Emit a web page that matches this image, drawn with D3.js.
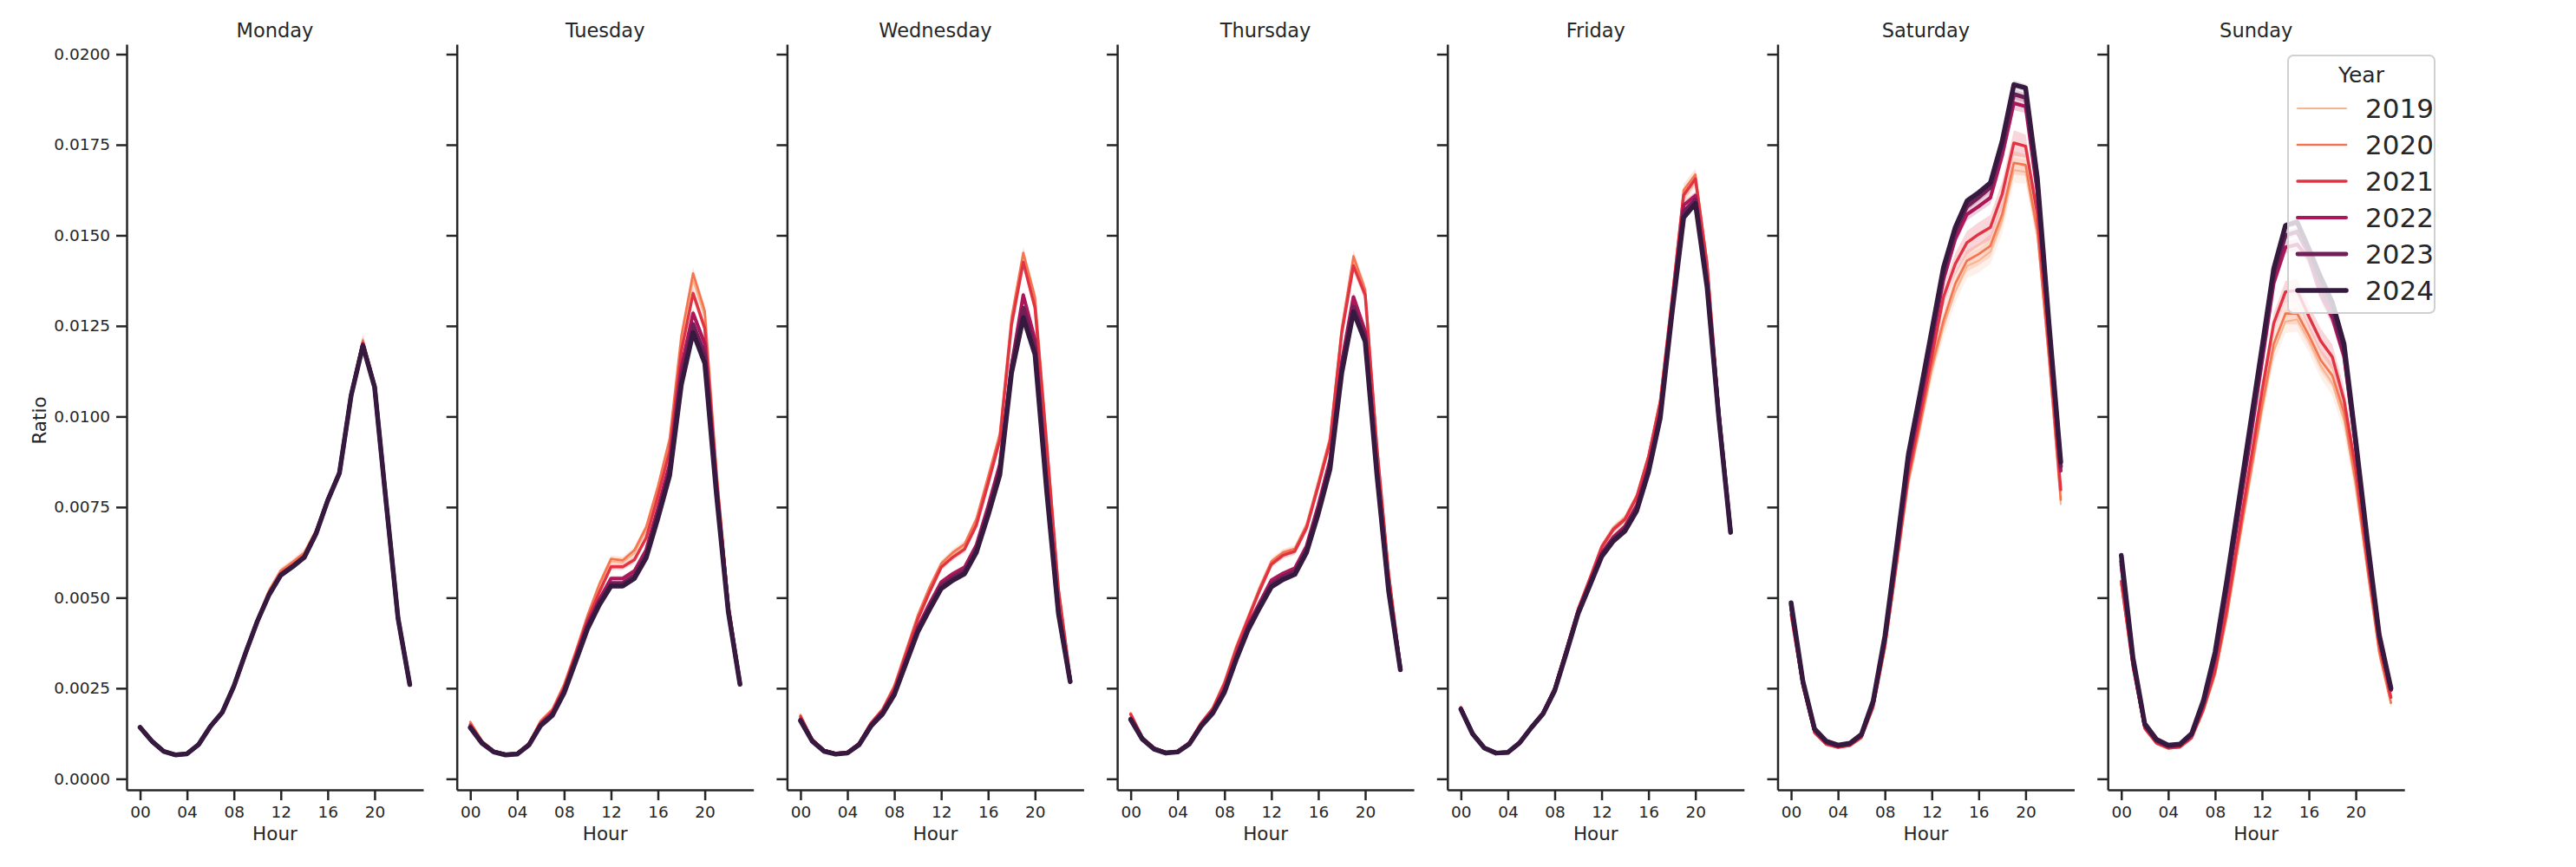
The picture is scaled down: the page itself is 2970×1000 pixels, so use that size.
<!DOCTYPE html>
<html lang="en">
<head>
  <meta charset="UTF-8">
  <script src="https://d3js.org/d3.v7.min.js"></script>
  <style>
    body { margin: 0; background: #fff; }
    text { font-family: "DejaVu Sans", sans-serif; fill: #262626; }
  </style>
</head>
<body>
<script>
  // data: one row per year (2019..2024), one value per hour 0..23
  const years = ["2019", "2020", "2021", "2022", "2023", "2024"];
  const days = ["Monday", "Tuesday", "Wednesday", "Thursday", "Friday", "Saturday", "Sunday"];
  const hourTicks = [0, 4, 8, 12, 16, 20];
  const ratioTicks = [0, 0.0025, 0.005, 0.0075, 0.01, 0.0125, 0.015, 0.0175, 0.02];

  const monday = [
    [0.00143,0.00104,0.00076,0.00066,0.00069,0.00095,0.00146,0.00184,0.00258,0.00350,0.00438,0.00512,0.00568,0.00592,0.00618,0.00681,0.00772,0.00847,0.01062,0.01205,0.01086,0.00760,0.00444,0.00260],
    [0.00144,0.00105,0.00077,0.00067,0.00070,0.00096,0.00147,0.00186,0.00260,0.00353,0.00442,0.00520,0.00575,0.00598,0.00624,0.00685,0.00775,0.00850,0.01065,0.01210,0.01090,0.00762,0.00445,0.00261],
    [0.00143,0.00104,0.00076,0.00066,0.00069,0.00095,0.00146,0.00184,0.00257,0.00349,0.00437,0.00512,0.00567,0.00590,0.00616,0.00680,0.00771,0.00846,0.01061,0.01203,0.01085,0.00760,0.00444,0.00260],
    [0.00142,0.00104,0.00076,0.00066,0.00069,0.00095,0.00145,0.00183,0.00256,0.00348,0.00436,0.00510,0.00565,0.00588,0.00614,0.00678,0.00770,0.00845,0.01060,0.01200,0.01083,0.00759,0.00443,0.00260],
    [0.00142,0.00104,0.00076,0.00066,0.00069,0.00095,0.00145,0.00183,0.00256,0.00348,0.00435,0.00509,0.00563,0.00586,0.00612,0.00677,0.00769,0.00844,0.01059,0.01197,0.01082,0.00758,0.00443,0.00260],
    [0.00142,0.00104,0.00076,0.00066,0.00069,0.00095,0.00145,0.00183,0.00256,0.00348,0.00435,0.00508,0.00562,0.00585,0.00611,0.00676,0.00768,0.00844,0.01058,0.01195,0.01081,0.00758,0.00443,0.00260]
  ];
  const tuesday = [
    [0.00154,0.00104,0.00077,0.00068,0.00070,0.00098,0.00158,0.00190,0.00258,0.00350,0.00447,0.00530,0.00600,0.00597,0.00622,0.00685,0.00797,0.00925,0.01205,0.01375,0.01275,0.00845,0.00486,0.00268],
    [0.00157,0.00105,0.00078,0.00069,0.00071,0.00099,0.00160,0.00192,0.00261,0.00353,0.00451,0.00537,0.00607,0.00603,0.00631,0.00695,0.00807,0.00938,0.01222,0.01395,0.01291,0.00850,0.00490,0.00270],
    [0.00150,0.00102,0.00076,0.00068,0.00070,0.00097,0.00155,0.00186,0.00252,0.00345,0.00440,0.00515,0.00585,0.00585,0.00605,0.00665,0.00780,0.00905,0.01180,0.01340,0.01243,0.00830,0.00478,0.00265],
    [0.00145,0.00100,0.00075,0.00067,0.00069,0.00095,0.00151,0.00181,0.00245,0.00336,0.00428,0.00495,0.00553,0.00553,0.00574,0.00632,0.00746,0.00868,0.01135,0.01285,0.01200,0.00810,0.00470,0.00263],
    [0.00143,0.00099,0.00075,0.00067,0.00069,0.00094,0.00149,0.00178,0.00241,0.00330,0.00420,0.00487,0.00540,0.00540,0.00561,0.00619,0.00730,0.00850,0.01110,0.01255,0.01170,0.00795,0.00466,0.00262],
    [0.00141,0.00098,0.00074,0.00066,0.00068,0.00093,0.00147,0.00175,0.00237,0.00325,0.00414,0.00480,0.00532,0.00532,0.00553,0.00610,0.00719,0.00837,0.01088,0.01232,0.01147,0.00783,0.00462,0.00261]
  ];
  const wednesday = [
    [0.00174,0.00109,0.00080,0.00070,0.00073,0.00098,0.00154,0.00191,0.00254,0.00350,0.00446,0.00522,0.00590,0.00620,0.00642,0.00710,0.00826,0.00945,0.01265,0.01440,0.01318,0.00928,0.00525,0.00281],
    [0.00176,0.00110,0.00080,0.00071,0.00074,0.00099,0.00155,0.00193,0.00257,0.00354,0.00451,0.00528,0.00594,0.00625,0.00648,0.00717,0.00834,0.00952,0.01273,0.01452,0.01329,0.00934,0.00528,0.00283],
    [0.00172,0.00108,0.00079,0.00070,0.00073,0.00098,0.00153,0.00190,0.00250,0.00345,0.00440,0.00515,0.00584,0.00612,0.00634,0.00700,0.00815,0.00935,0.01253,0.01426,0.01300,0.00920,0.00522,0.00280],
    [0.00165,0.00106,0.00078,0.00069,0.00072,0.00096,0.00149,0.00185,0.00240,0.00330,0.00418,0.00483,0.00543,0.00566,0.00584,0.00645,0.00752,0.00868,0.01140,0.01335,0.01212,0.00820,0.00465,0.00272],
    [0.00162,0.00105,0.00077,0.00069,0.00072,0.00095,0.00147,0.00182,0.00236,0.00324,0.00411,0.00474,0.00533,0.00556,0.00574,0.00634,0.00738,0.00852,0.01135,0.01300,0.01190,0.00805,0.00460,0.00270],
    [0.00160,0.00104,0.00076,0.00068,0.00071,0.00094,0.00145,0.00179,0.00232,0.00319,0.00405,0.00467,0.00525,0.00548,0.00566,0.00625,0.00727,0.00839,0.01120,0.01273,0.01171,0.00793,0.00456,0.00268]
  ];
  const thursday = [
    [0.00179,0.00114,0.00085,0.00073,0.00076,0.00100,0.00154,0.00194,0.00265,0.00361,0.00443,0.00524,0.00596,0.00620,0.00631,0.00696,0.00813,0.00935,0.01236,0.01430,0.01342,0.00917,0.00567,0.00309],
    [0.00181,0.00115,0.00086,0.00074,0.00077,0.00101,0.00155,0.00196,0.00268,0.00365,0.00446,0.00528,0.00600,0.00625,0.00635,0.00701,0.00819,0.00941,0.01243,0.01442,0.01350,0.00920,0.00570,0.00310],
    [0.00178,0.00114,0.00085,0.00073,0.00076,0.00100,0.00153,0.00193,0.00262,0.00358,0.00440,0.00520,0.00592,0.00617,0.00628,0.00692,0.00808,0.00930,0.01230,0.01416,0.01335,0.00915,0.00565,0.00309],
    [0.00167,0.00111,0.00083,0.00072,0.00075,0.00098,0.00149,0.00187,0.00247,0.00340,0.00423,0.00486,0.00548,0.00567,0.00581,0.00643,0.00755,0.00880,0.01150,0.01330,0.01235,0.00860,0.00528,0.00305],
    [0.00165,0.00110,0.00083,0.00072,0.00075,0.00097,0.00147,0.00184,0.00243,0.00334,0.00416,0.00479,0.00537,0.00558,0.00572,0.00633,0.00742,0.00866,0.01135,0.01304,0.01220,0.00848,0.00523,0.00303],
    [0.00163,0.00109,0.00082,0.00071,0.00074,0.00096,0.00145,0.00181,0.00239,0.00329,0.00410,0.00472,0.00530,0.00550,0.00564,0.00625,0.00732,0.00855,0.01120,0.01289,0.01207,0.00839,0.00518,0.00301]
  ];
  const friday = [
    [0.00196,0.00126,0.00086,0.00072,0.00074,0.00100,0.00143,0.00182,0.00250,0.00357,0.00466,0.00550,0.00636,0.00684,0.00712,0.00774,0.00884,0.01035,0.01315,0.01605,0.01648,0.01412,0.01012,0.00687],
    [0.00198,0.00126,0.00086,0.00072,0.00074,0.00100,0.00143,0.00183,0.00252,0.00360,0.00470,0.00555,0.00642,0.00692,0.00720,0.00782,0.00892,0.01045,0.01325,0.01625,0.01668,0.01425,0.01018,0.00690],
    [0.00197,0.00126,0.00086,0.00072,0.00074,0.00100,0.00143,0.00183,0.00251,0.00358,0.00468,0.00552,0.00639,0.00688,0.00716,0.00778,0.00888,0.01040,0.01320,0.01611,0.01656,0.01419,0.01015,0.00688],
    [0.00194,0.00125,0.00086,0.00071,0.00073,0.00099,0.00142,0.00181,0.00247,0.00353,0.00462,0.00542,0.00623,0.00667,0.00697,0.00755,0.00862,0.01012,0.01300,0.01583,0.01610,0.01375,0.01005,0.00684],
    [0.00193,0.00124,0.00085,0.00071,0.00073,0.00099,0.00141,0.00180,0.00245,0.00350,0.00459,0.00538,0.00618,0.00661,0.00690,0.00747,0.00853,0.01003,0.01292,0.01565,0.01598,0.01365,0.01000,0.00682],
    [0.00192,0.00124,0.00085,0.00071,0.00073,0.00099,0.00141,0.00179,0.00243,0.00348,0.00456,0.00534,0.00613,0.00656,0.00684,0.00740,0.00846,0.00995,0.01283,0.01549,0.01588,0.01356,0.00995,0.00680]
  ];
  const saturday = [
    [0.00448,0.00254,0.00125,0.00094,0.00086,0.00091,0.00112,0.00194,0.00356,0.00582,0.00815,0.00968,0.01125,0.01248,0.01345,0.01415,0.01430,0.01455,0.01540,0.01680,0.01675,0.01500,0.01150,0.00758],
    [0.00450,0.00255,0.00126,0.00094,0.00086,0.00091,0.00113,0.00196,0.00360,0.00588,0.00823,0.00978,0.01140,0.01265,0.01366,0.01430,0.01448,0.01471,0.01558,0.01700,0.01694,0.01515,0.01160,0.00770],
    [0.00455,0.00258,0.00128,0.00096,0.00087,0.00092,0.00115,0.00200,0.00368,0.00600,0.00840,0.01000,0.01165,0.01330,0.01421,0.01480,0.01503,0.01522,0.01613,0.01755,0.01746,0.01560,0.01190,0.00798],
    [0.00472,0.00264,0.00133,0.00100,0.00090,0.00095,0.00119,0.00208,0.00380,0.00620,0.00868,0.01032,0.01205,0.01378,0.01490,0.01558,0.01580,0.01604,0.01720,0.01865,0.01856,0.01620,0.01232,0.00850],
    [0.00480,0.00268,0.00136,0.00102,0.00092,0.00097,0.00121,0.00212,0.00388,0.00632,0.00883,0.01050,0.01225,0.01398,0.01510,0.01580,0.01605,0.01632,0.01745,0.01890,0.01880,0.01640,0.01245,0.00862],
    [0.00486,0.00271,0.00138,0.00104,0.00093,0.00098,0.00123,0.00215,0.00394,0.00641,0.00895,0.01063,0.01238,0.01412,0.01522,0.01595,0.01618,0.01645,0.01760,0.01916,0.01907,0.01659,0.01256,0.00874]
  ];
  const sunday = [
    [0.00535,0.00305,0.00137,0.00097,0.00083,0.00086,0.00111,0.00186,0.00286,0.00444,0.00640,0.00828,0.01015,0.01180,0.01262,0.01268,0.01210,0.01140,0.01092,0.00990,0.00805,0.00572,0.00345,0.00208],
    [0.00538,0.00306,0.00138,0.00097,0.00084,0.00087,0.00112,0.00188,0.00290,0.00450,0.00650,0.00840,0.01030,0.01200,0.01284,0.01284,0.01224,0.01156,0.01113,0.01010,0.00820,0.00580,0.00350,0.00210],
    [0.00545,0.00310,0.00140,0.00099,0.00085,0.00088,0.00114,0.00192,0.00300,0.00470,0.00670,0.00870,0.01070,0.01257,0.01344,0.01348,0.01276,0.01209,0.01164,0.01045,0.00855,0.00600,0.00370,0.00225],
    [0.00590,0.00320,0.00146,0.00104,0.00089,0.00092,0.00120,0.00205,0.00332,0.00520,0.00728,0.00935,0.01150,0.01368,0.01467,0.01475,0.01436,0.01336,0.01272,0.01165,0.00915,0.00638,0.00388,0.00245],
    [0.00600,0.00326,0.00149,0.00106,0.00091,0.00094,0.00122,0.00210,0.00340,0.00533,0.00745,0.00955,0.01170,0.01390,0.01500,0.01510,0.01450,0.01360,0.01290,0.01180,0.00925,0.00645,0.00392,0.00247],
    [0.00617,0.00334,0.00152,0.00109,0.00093,0.00096,0.00125,0.00216,0.00350,0.00548,0.00762,0.00976,0.01190,0.01408,0.01527,0.01537,0.01463,0.01385,0.01315,0.01200,0.00933,0.00655,0.00398,0.00250]
  ];

  // half width of the 95% band, weekdays and weekend
  const ciWeekday = [
    [0.00004,0.00003,0.00002,0.00002,0.00002,0.00003,0.00004,0.00005,0.00006,0.00007,0.00008,0.00009,0.00010,0.00010,0.00010,0.00011,0.00012,0.00013,0.00016,0.00018,0.00017,0.00013,0.00008,0.00005],
    [0.00004,0.00003,0.00002,0.00002,0.00002,0.00003,0.00004,0.00005,0.00006,0.00007,0.00008,0.00009,0.00009,0.00009,0.00010,0.00010,0.00011,0.00012,0.00015,0.00017,0.00016,0.00012,0.00007,0.00005],
    [0.00004,0.00003,0.00002,0.00002,0.00002,0.00003,0.00004,0.00005,0.00006,0.00007,0.00008,0.00009,0.00009,0.00009,0.00010,0.00010,0.00011,0.00012,0.00015,0.00017,0.00016,0.00012,0.00007,0.00005],
    [0.00003,0.00002,0.00002,0.00001,0.00001,0.00002,0.00003,0.00003,0.00004,0.00005,0.00006,0.00006,0.00007,0.00007,0.00007,0.00007,0.00008,0.00009,0.00011,0.00012,0.00011,0.00008,0.00005,0.00003],
    [0.00002,0.00002,0.00001,0.00001,0.00001,0.00001,0.00002,0.00002,0.00003,0.00003,0.00004,0.00004,0.00005,0.00005,0.00005,0.00005,0.00006,0.00006,0.00008,0.00009,0.00008,0.00006,0.00004,0.00002],
    [0.00002,0.00001,0.00001,0.00001,0.00001,0.00001,0.00002,0.00002,0.00002,0.00003,0.00003,0.00004,0.00004,0.00004,0.00004,0.00004,0.00005,0.00005,0.00006,0.00007,0.00007,0.00005,0.00003,0.00002]
  ];
  const ciWeekend = [
    [0.00012,0.00008,0.00005,0.00004,0.00004,0.00004,0.00005,0.00008,0.00012,0.00016,0.00020,0.00024,0.00028,0.00030,0.00032,0.00033,0.00033,0.00034,0.00035,0.00035,0.00033,0.00028,0.00020,0.00014],
    [0.00010,0.00007,0.00004,0.00003,0.00003,0.00003,0.00004,0.00007,0.00010,0.00014,0.00018,0.00021,0.00025,0.00027,0.00029,0.00030,0.00030,0.00031,0.00032,0.00032,0.00030,0.00025,0.00018,0.00012],
    [0.00010,0.00007,0.00004,0.00003,0.00003,0.00003,0.00004,0.00007,0.00010,0.00014,0.00018,0.00021,0.00026,0.00028,0.00030,0.00032,0.00033,0.00034,0.00035,0.00035,0.00032,0.00026,0.00018,0.00012],
    [0.00006,0.00004,0.00003,0.00002,0.00002,0.00002,0.00003,0.00004,0.00006,0.00008,0.00010,0.00012,0.00014,0.00015,0.00016,0.00017,0.00017,0.00018,0.00020,0.00020,0.00018,0.00015,0.00010,0.00007],
    [0.00005,0.00003,0.00002,0.00002,0.00002,0.00002,0.00002,0.00003,0.00005,0.00006,0.00008,0.00009,0.00010,0.00011,0.00012,0.00012,0.00012,0.00013,0.00014,0.00014,0.00013,0.00011,0.00008,0.00005],
    [0.00004,0.00003,0.00002,0.00002,0.00002,0.00002,0.00002,0.00003,0.00004,0.00005,0.00006,0.00007,0.00008,0.00009,0.00009,0.00010,0.00010,0.00010,0.00011,0.00011,0.00010,0.00009,0.00006,0.00004]
  ];

  const dayData = [monday, tuesday, wednesday, thursday, friday, saturday, sunday];
  const dayCi = [ciWeekday, ciWeekday, ciWeekday, ciWeekday, ciWeekday, ciWeekend, ciWeekend];

  const colors = ["#f6b48f", "#f37651", "#e13342", "#ad1759", "#701f57", "#35193e"];
  const widths = [2, 2.7, 3.4, 4.1, 4.8, 5.5];

  const svgW = 2970, svgH = 1000;
  const panelLeft = 146, panelStep = 380.7, panelW = 342;
  const plotTop = 51, plotBottom = 911;
  const ink = "#262626";

  const svg = d3.select("body").append("svg")
    .attr("width", svgW)
    .attr("height", svgH);

  const y = d3.scaleLinear()
    .domain([-0.000304, 0.020275])
    .range([plotBottom, plotTop]);

  days.forEach((day, i) => {
    const x0 = panelLeft + i * panelStep;
    const x = d3.scaleLinear()
      .domain([-1.15, 24.15])
      .range([x0, x0 + panelW]);

    const g = svg.append("g");
    const rows = dayData[i];
    const ci = dayCi[i];

    // bands first, as matplotlib puts collections under lines
    rows.forEach((vals, k) => {
      const area = d3.area()
        .x((d, h) => x(h))
        .y0((d, h) => y(d - ci[k][h]))
        .y1((d, h) => y(d + ci[k][h]));
      g.append("path")
        .datum(vals)
        .attr("d", area)
        .attr("fill", colors[k])
        .attr("fill-opacity", 0.2);
    });

    rows.forEach((vals, k) => {
      const line = d3.line()
        .x((d, h) => x(h))
        .y(d => y(d));
      g.append("path")
        .datum(vals)
        .attr("d", line)
        .attr("fill", "none")
        .attr("stroke", colors[k])
        .attr("stroke-width", widths[k])
        .attr("stroke-linecap", "round")
        .attr("stroke-linejoin", "round");
    });

    // axes
    const xAxis = g.append("g")
      .attr("transform", `translate(0,${plotBottom})`)
      .call(d3.axisBottom(x).tickValues(hourTicks)
        .tickFormat(d => String(d).padStart(2, "0"))
        .tickSize(12).tickSizeOuter(0).tickPadding(7));

    const yAxis = g.append("g")
      .attr("transform", `translate(${x0},0)`)
      .call(d3.axisLeft(y).tickValues(ratioTicks)
        .tickFormat(i === 0 ? d3.format(".4f") : () => "")
        .tickSize(12).tickSizeOuter(0).tickPadding(7));

    [xAxis, yAxis].forEach(a => {
      a.selectAll("path, line").attr("stroke", ink).attr("stroke-width", 2.5);
      a.selectAll("text")
        .attr("fill", ink)
        .style("font-family", "'DejaVu Sans', sans-serif")
        .style("font-size", "18.5px");
    });

    g.append("text")
      .attr("x", x0 + panelW / 2)
      .attr("y", 35)
      .attr("dy", "0.36em")
      .attr("text-anchor", "middle")
      .style("font-size", "22.5px")
      .text(day);

    g.append("text")
      .attr("x", x0 + panelW / 2)
      .attr("y", 961)
      .attr("dy", "0.36em")
      .attr("text-anchor", "middle")
      .style("font-size", "21.5px")
      .text("Hour");
  });

  svg.append("text")
    .attr("transform", "translate(45,485) rotate(-90)")
    .attr("dy", "0.36em")
    .attr("text-anchor", "middle")
    .style("font-size", "21.5px")
    .text("Ratio");

  // legend
  const lg = svg.append("g");
  lg.append("rect")
    .attr("x", 2638).attr("y", 64)
    .attr("width", 169).attr("height", 297)
    .attr("rx", 6)
    .attr("fill", "#fff").attr("fill-opacity", 0.8)
    .attr("stroke", "#d0d0d0").attr("stroke-width", 2);

  lg.append("text")
    .attr("x", 2722.5).attr("y", 86)
    .attr("dy", "0.36em")
    .attr("text-anchor", "middle")
    .style("font-size", "25px")
    .text("Year");

  years.forEach((yr, k) => {
    const ly = 125 + k * 42;
    lg.append("line")
      .attr("x1", 2649).attr("x2", 2705)
      .attr("y1", ly).attr("y2", ly)
      .attr("stroke", colors[k])
      .attr("stroke-width", widths[k])
      .attr("stroke-linecap", "round");
    lg.append("text")
      .attr("x", 2727).attr("y", ly)
      .attr("dy", "0.36em")
      .style("font-size", "31px")
      .text(yr);
  });
</script>
</body>
</html>
